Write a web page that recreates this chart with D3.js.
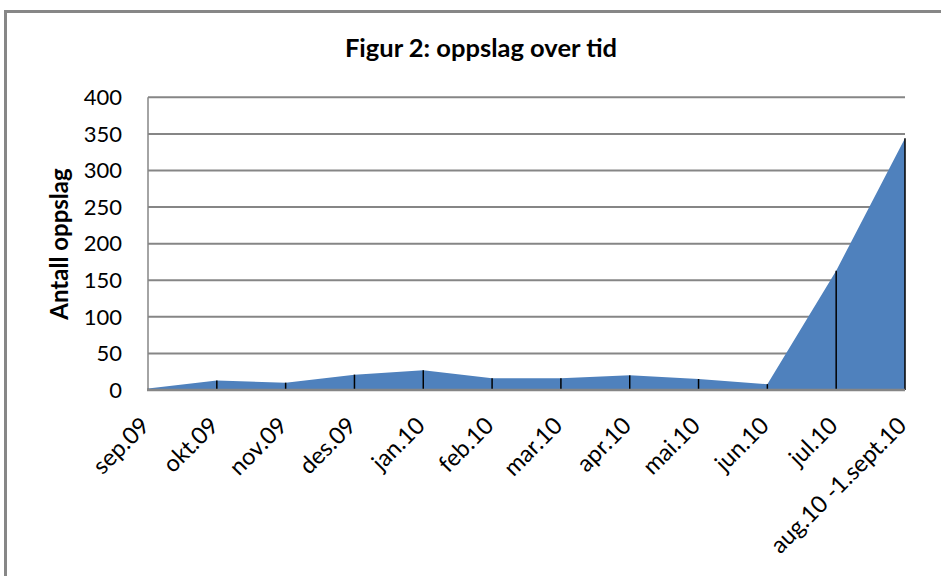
<!DOCTYPE html>
<html>
<head>
<meta charset="utf-8">
<script src="https://cdn.jsdelivr.net/npm/d3@7"></script>
<style>
  body { margin: 0; background: #fff; }
  svg { display: block; font-family: Lato, "Open Sans", sans-serif; }
  .grid line { stroke: #868686; stroke-width: 2; }
  .ytick { font-size: 22px; fill: #000; }
  .xtick { font-size: 23.5px; fill: #000; }
</style>
</head>
<body>
<svg></svg>
<script>
// data
const months = ["sep.09", "okt.09", "nov.09", "des.09", "jan.10", "feb.10",
    "mar.10", "apr.10", "mai.10", "jun.10", "jul.10", "aug.10 -1.sept.10"]
const lookups = [2, 13, 10, 21, 27, 16, 16, 20, 15, 8, 163, 344]
const yTicks = [0, 50, 100, 150, 200, 250, 300, 350, 400]

const width = 941, height = 576
const plot = { left: 148, right: 905, top: 97.3, bottom: 390 }

const svg = d3.select('svg')
    .attr("width", width)
    .attr("height", height)

// outer chart frame
svg.append("rect")
    .attr("x", 5.5).attr("y", 11.5)
    .attr("width", 960).attr("height", 600)
    .attr("fill", "none")
    .attr("stroke", "#878787")
    .attr("stroke-width", 3)

svg.append("text")
    .attr("x", 481).attr("y", 57)
    .attr("text-anchor", "middle")
    .style("font-size", "25.5px")
    .style("font-weight", "bold")
    .text("Figur 2: oppslag over tid")

const x = d3.scalePoint()
    .domain(months)
    .range([plot.left, plot.right])

const y = d3.scaleLinear()
    .domain([0, 400])
    .range([plot.bottom, plot.top])

// gridlines
svg.append("g")
    .attr("class", "grid")
    .selectAll("line")
    .data(yTicks.filter(d => d > 0))
    .enter()
    .append("line")
    .attr("x1", plot.left).attr("x2", plot.right)
    .attr("y1", d => y(d)).attr("y2", d => y(d))

// y tick labels
svg.append("g")
    .selectAll("text")
    .data(yTicks)
    .enter()
    .append("text")
    .attr("class", "ytick")
    .attr("x", 122)
    .attr("y", d => y(d))
    .attr("dy", "0.35em")
    .attr("text-anchor", "end")
    .text(d => d)

const area = d3.area()
    .x((_, i) => x(months[i]))
    .y0(y(0))
    .y1(d => y(d))

svg.append("path")
    .datum(lookups)
    .attr("d", area)
    .attr("fill", "#4F81BD")

// drop lines
svg.append("g")
    .selectAll("line")
    .data(lookups)
    .enter()
    .append("line")
    .attr("x1", (_, i) => x(months[i]))
    .attr("x2", (_, i) => x(months[i]))
    .attr("y1", d => y(d))
    .attr("y2", y(0))
    .attr("stroke", "#000")
    .attr("stroke-width", 1.5)

// axis lines
svg.append("line")
    .attr("x1", plot.left).attr("x2", plot.left)
    .attr("y1", plot.top).attr("y2", plot.bottom)
    .attr("stroke", "#868686").attr("stroke-width", 1.5)

svg.append("line")
    .attr("x1", plot.left - 1).attr("x2", plot.right)
    .attr("y1", plot.bottom).attr("y2", plot.bottom)
    .attr("stroke", "#868686").attr("stroke-width", 2.5)

// x labels, rotated
svg.append("g")
    .selectAll("text")
    .data(months)
    .enter()
    .append("text")
    .attr("class", "xtick")
    .attr("text-anchor", "end")
    .attr("transform", d => `translate(${x(d) + 3}, 427) rotate(-45)`)
    .text(d => d)

svg.append("text")
    .attr("transform", "translate(68, 244) rotate(-90)")
    .attr("text-anchor", "middle")
    .style("font-size", "24px")
    .style("font-weight", "bold")
    .text("Antall oppslag")
</script>
</body>
</html>
